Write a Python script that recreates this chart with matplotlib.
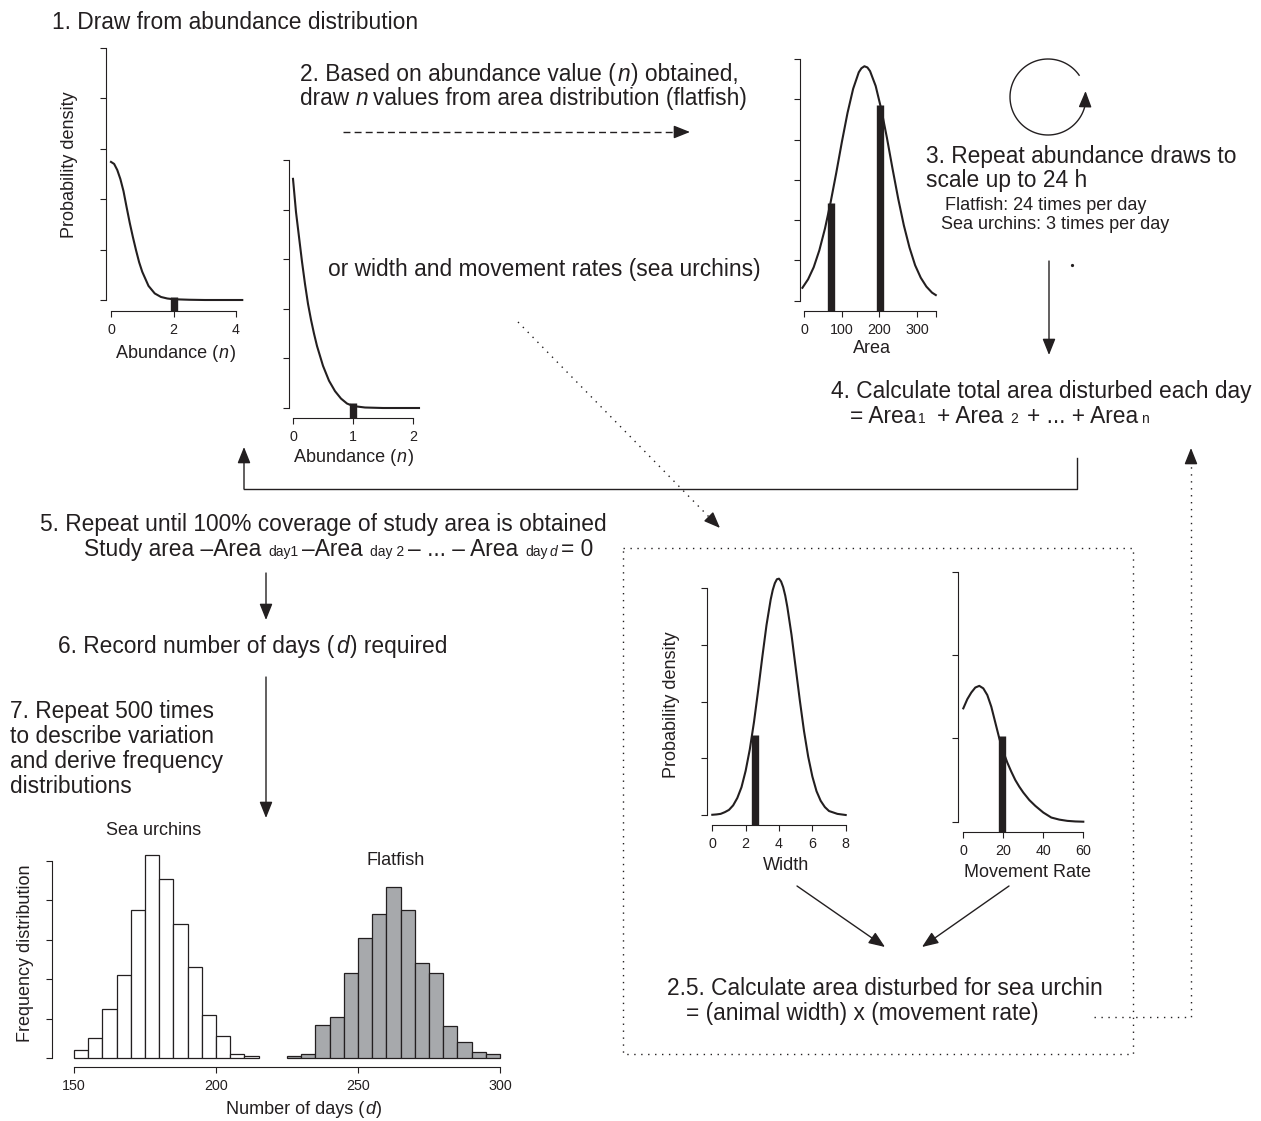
import numpy as np
import matplotlib
matplotlib.use("Agg")
import matplotlib.pyplot as plt

plt.rcParams['font.family'] = ['Liberation Sans', 'DejaVu Sans']

INK = '#231f20'
FLAT_GREY = '#a7a9ac'
BIG, MID, SUB = 16.4, 13, 10

# ---- values (y in tick units) ----
# step 1: abundance density, flatfish
abund_fish_x = [0, 0.1, 0.2, 0.3, 0.4, 0.5, 0.6, 0.7, 0.8, 0.9, 1.0, 1.2, 1.4, 1.6, 1.8, 2.0, 2.5, 3.0, 3.5, 4.0, 4.2]
abund_fish_y = [2.74, 2.70, 2.58, 2.40, 2.16, 1.84, 1.53, 1.25, 0.99, 0.75, 0.56, 0.28, 0.13, 0.06, 0.03, 0.015, 0.005, 0, 0, 0, 0]
abund_fish_draw = [2]
abund_fish_draw_h = [0.06]

# abundance density, sea urchins
abund_urch_x = [0, 0.05, 0.1, 0.15, 0.2, 0.25, 0.3, 0.35, 0.4, 0.5, 0.6, 0.7, 0.8, 0.9, 1.0, 1.2, 1.5, 2.1]
abund_urch_y = [4.62, 3.95, 3.45, 2.95, 2.50, 2.10, 1.78, 1.50, 1.25, 0.85, 0.55, 0.34, 0.19, 0.09, 0.04, 0.01, 0, 0]
abund_urch_draw = [1]
abund_urch_draw_h = [0.1]

# area distribution (flatfish)
area_x = [-5, 10, 25, 40, 55, 70, 85, 100, 115, 130, 145, 152, 160, 168, 175, 190, 205, 220, 235, 250, 265,
          280, 295, 310, 325, 340, 350]
area_y = [0.32, 0.53, 0.83, 1.25, 1.79, 2.44, 3.17, 3.94, 4.66, 5.26, 5.67, 5.77, 5.82, 5.79, 5.70, 5.33, 4.75,
          4.04, 3.27, 2.53, 1.87, 1.32, 0.88, 0.57, 0.35, 0.20, 0.14]
area_draw = [72, 201]
area_draw_h = [2.42, 4.86]

# width distribution (sea urchins)
width_x = [0, 0.25, 0.5, 0.75, 1.0, 1.25, 1.5, 1.75, 2.0, 2.25, 2.5, 2.75, 3.0, 3.25, 3.5, 3.625, 3.75, 3.875,
           4.0, 4.125, 4.25, 4.375, 4.5, 4.75, 5.0, 5.25, 5.5, 5.75, 6.0, 6.25, 6.5, 6.75, 7.0, 7.5, 8.0]
width_y = [0.004, 0.01, 0.02, 0.05, 0.09, 0.17, 0.30, 0.49, 0.78, 1.16, 1.64, 2.20, 2.79, 3.35, 3.80, 3.97, 4.09,
           4.16, 4.17, 4.12, 4.02, 3.87, 3.67, 3.18, 2.60, 2.02, 1.48, 1.03, 0.68, 0.42, 0.25, 0.14, 0.07, 0.02, 0.0]
width_draw = [2.55]
width_draw_h = [1.42]

# movement rate distribution (sea urchins)
move_x = [0, 2, 4, 6, 8, 10, 12, 14, 16, 18, 20, 22, 24, 26, 28, 30, 33, 36, 40, 44, 48, 52, 56, 60]
move_y = [1.36, 1.47, 1.55, 1.61, 1.63, 1.60, 1.52, 1.38, 1.19, 1.00, 0.84, 0.71, 0.60, 0.50, 0.42, 0.35,
          0.26, 0.19, 0.11, 0.05, 0.025, 0.01, 0.003, 0.0]
move_draw = [19.5]
move_draw_h = [1.03]

# frequency distributions of days to full coverage (500 runs, 5-day bins)
urchin_left = [150, 155, 160, 165, 170, 175, 180, 185, 190, 195, 200, 205, 210]
urchin_counts = [4, 10, 25, 42, 75, 103, 91, 68, 46, 22, 11, 2, 1]
flat_left = [225, 230, 235, 240, 245, 250, 255, 260, 265, 270, 275, 280, 285, 290, 295]
flat_counts = [1, 2, 17, 21, 43, 61, 73, 87, 75, 48, 43, 16, 8, 3, 2]

W, H = 1261, 1121
fig = plt.figure(figsize=(W / 100, H / 100), dpi=100)
ov = fig.add_axes([0, 0, 1, 1])
ov.set_xlim(0, W)
ov.set_ylim(H, 0)
ov.axis('off')
renderer = fig.canvas.get_renderer()


def panel(xmap, ymap, box, xticks, yticks, xlabels=None):
    # xmap/ymap: two (value, pixel) pairs; box: spine pixels left, right, top, bottom
    v0, p0, v1, p1 = xmap
    w0, q0, w1, q1 = ymap
    sx = (p1 - p0) / (v1 - v0)
    sy = (q1 - q0) / (w1 - w0)
    left, right, top, bottom = box
    ax = fig.add_axes([left / W, 1 - bottom / H, (right - left) / W, (bottom - top) / H])
    ax.set_xlim(v0 + (left - p0) / sx, v0 + (right - p0) / sx)
    ax.set_ylim(w0 + (bottom - q0) / sy, w0 + (top - q0) / sy)
    ax.patch.set_visible(False)
    ax.spines[['top', 'right']].set_visible(False)
    for s in ('left', 'bottom'):
        ax.spines[s].set_linewidth(0.8)
        ax.spines[s].set_color(INK)
    ax.set_xticks(xticks)
    ax.set_yticks(yticks)
    ax.set_yticklabels([])
    if xlabels is not None:
        ax.set_xticklabels(xlabels)
    ax.spines['bottom'].set_bounds(xticks[0], xticks[-1])
    ax.spines['left'].set_bounds(yticks[0], yticks[-1])
    ax.tick_params(length=4.5, width=0.8, color=INK, labelcolor=INK, labelsize=10.3, pad=4)
    return ax


def density(ax, x, y, draws, heights):
    ax.plot(x, y, color=INK, lw=1.5, clip_on=False)
    ax.vlines(draws, ax.get_ylim()[0], heights, colors=INK, lw=5.3, capstyle='butt')


def tw(s, size, style):
    t = ov.text(0, 0, s, fontsize=size, style=style)
    w = t.get_window_extent(renderer).width
    t.remove()
    return w


def run(x, y, parts, ha='left'):
    # parts: (gap before in px, text, size, style); y is the baseline
    widths = [tw(t, s, st) for _, t, s, st in parts]
    if ha == 'center':
        x -= (sum(p[0] for p in parts) + sum(widths)) / 2
    for (g, t, s, st), w in zip(parts, widths):
        x += g
        ov.text(x, y, t, fontsize=s, style=st, color=INK, ha='left', va='baseline')
        x += w


def line(x, y, s, size=BIG):
    run(x, y, [(0, s, size, 'normal')])


def head(p0, p1):
    ov.annotate('', xy=p1, xytext=p0,
                arrowprops=dict(arrowstyle='-|>,head_length=0.55,head_width=0.22', mutation_scale=18,
                                lw=1.0, color=INK, shrinkA=0, shrinkB=0))


DOT = (0, (1, 4))

# ---- panels ----
ax1 = panel((0, 111, 4, 236), (0, 300, 5, 48), (106, 246, 38, 311), [0, 2, 4], [0, 1, 2, 3, 4, 5])
density(ax1, abund_fish_x, abund_fish_y, abund_fish_draw, abund_fish_draw_h)

ax2 = panel((0, 293, 2, 413), (0, 408, 5, 160), (289, 425, 150, 418), [0, 1, 2], [0, 1, 2, 3, 4, 5])
density(ax2, abund_urch_x, abund_urch_y, abund_urch_draw, abund_urch_draw_h)

ax3 = panel((0, 804.3, 300, 917), (0, 300.7, 6, 59), (800, 940, 50, 311),
            [0, 100, 200, 300, 350], [0, 1, 2, 3, 4, 5, 6], ['0', '100', '200', '300', ''])
density(ax3, area_x, area_y, area_draw, area_draw_h)

ax4 = panel((0, 712.3, 8, 845.7), (0, 815, 4, 588.3), (707, 850, 570, 825), [0, 2, 4, 6, 8], [0, 1, 2, 3, 4])
density(ax4, width_x, width_y, width_draw, width_draw_h)

ax5 = panel((0, 963.3, 60, 1083.3), (0, 821.7, 3, 571.7), (958, 1087, 565, 832), [0, 20, 40, 60], [0, 1, 2, 3])
density(ax5, move_x, move_y, move_draw, move_draw_h)

axh = panel((150, 74, 300, 500), (0, 1058, 100, 861), (52, 505, 845, 1067),
            [150, 200, 250, 300], [0, 20, 40, 60, 80, 100])
axh.bar(urchin_left, urchin_counts, width=5, align='edge', color='white', edgecolor=INK, lw=0.9)
axh.bar(flat_left, flat_counts, width=5, align='edge', color=FLAT_GREY, edgecolor=INK, lw=0.9)

# ---- axis labels ----
ov.text(70, 165, 'Probability density', rotation=90, ha='center', va='center', fontsize=MID, color=INK)
run(176, 358, [(0, 'Abundance (', MID, 'normal'), (1, 'n', MID, 'italic'), (1, ')', MID, 'normal')], ha='center')
run(354, 462, [(0, 'Abundance (', MID, 'normal'), (1, 'n', MID, 'italic'), (1, ')', MID, 'normal')], ha='center')
run(872, 353, [(0, 'Area', MID, 'normal')], ha='center')
ov.text(671, 705, 'Probability density', rotation=90, ha='center', va='center', fontsize=MID, color=INK)
run(786, 870, [(0, 'Width', MID, 'normal')], ha='center')
run(1027, 877, [(0, 'Movement Rate', MID, 'normal')], ha='center')
run(154, 835, [(0, 'Sea urchins', MID, 'normal')], ha='center')
run(396, 865, [(0, 'Flatfish', MID, 'normal')], ha='center')
ov.text(26, 953, 'Frequency distribution', rotation=90, ha='center', va='center', fontsize=MID, color=INK)
run(304, 1114, [(0, 'Number of days (', MID, 'normal'), (1, 'd', MID, 'italic'), (1, ')', MID, 'normal')], ha='center')

# ---- step texts ----
line(52, 29, '1. Draw from abundance distribution')
run(300, 81, [(0, '2. Based on abundance value (', BIG, 'normal'), (1.5, 'n', BIG, 'italic'),
              (1.5, ') obtained,', BIG, 'normal')])
run(300, 105, [(0, 'draw', BIG, 'normal'), (6, 'n', BIG, 'italic'),
               (5.5, 'values from area distribution (flatfish)', BIG, 'normal')])
line(328, 276, 'or width and movement rates (sea urchins)')
line(926, 163, '3. Repeat abundance draws to')
line(926, 187, 'scale up to 24 h')
line(945, 210, 'Flatfish: 24 times per day', MID)
line(941, 229, 'Sea urchins: 3 times per day', MID)
line(831, 398, '4. Calculate total area disturbed each day')
run(850, 423, [(0, '= Area', BIG, 'normal'), (2, '1', SUB, 'normal'), (11, '+ Area', BIG, 'normal'),
               (7, '2', SUB, 'normal'), (9, '+ ... + Area', BIG, 'normal'), (3, 'n', SUB, 'normal')])
line(40, 531, '5. Repeat until 100% coverage of study area is obtained')
run(84, 556, [(0, 'Study area –Area', BIG, 'normal'), (7, 'day1', SUB, 'normal'), (4, '–Area', BIG, 'normal'),
              (7, 'day 2', SUB, 'normal'), (4, '– ... – Area', BIG, 'normal'), (7, 'day', SUB, 'normal'),
              (2, 'd', SUB, 'italic'), (3, '= 0', BIG, 'normal')])
run(58, 653, [(0, '6. Record number of days (', BIG, 'normal'), (1.5, 'd', BIG, 'italic'),
              (1.5, ') required', BIG, 'normal')])
for i, s in enumerate(['7. Repeat 500 times', 'to describe variation', 'and derive frequency', 'distributions']):
    line(10, 718 + 25 * i, s)
line(667, 995, '2.5. Calculate area disturbed for sea urchin')
line(686, 1020, '= (animal width) x (movement rate)')

# ---- arrows and connectors ----
ov.plot([343, 678], [132, 132], color=INK, lw=1.0, ls=(0, (5, 3)))
head((676, 132), (690, 132))

cx, cy, r = 1048, 97, 38
th = np.radians(np.linspace(35, 348, 90))
ov.plot(cx + r * np.cos(th), cy - r * np.sin(th), color=INK, lw=1.0)
head((cx + r * np.cos(np.radians(348)), cy - r * np.sin(np.radians(348))),
     (cx + r * np.cos(np.radians(9)), cy - r * np.sin(np.radians(9))))

head((1049, 261), (1049, 355))
ov.plot([1072], [265], 'o', ms=1.3, color=INK)

ov.plot([1077, 1077, 244], [458, 489, 489], color=INK, lw=1.0)
head((244, 489), (244, 447))
head((266, 573), (266, 620))
head((266, 677), (266, 818))

ov.plot([518, 710], [322, 518], color=INK, lw=1.0, ls=DOT)
head((710, 518), (720, 528))
ov.plot([623, 1133, 1133, 623, 623], [548, 548, 1054, 1054, 548], color=INK, lw=1.0, ls=DOT)
ov.plot([1094, 1191, 1191], [1017, 1017, 462], color=INK, lw=1.0, ls=DOT)
head((1191, 462), (1191, 448))

head((797, 886), (885, 947))
head((1009, 886), (922, 947))

fig.savefig('out.png', dpi=100)
